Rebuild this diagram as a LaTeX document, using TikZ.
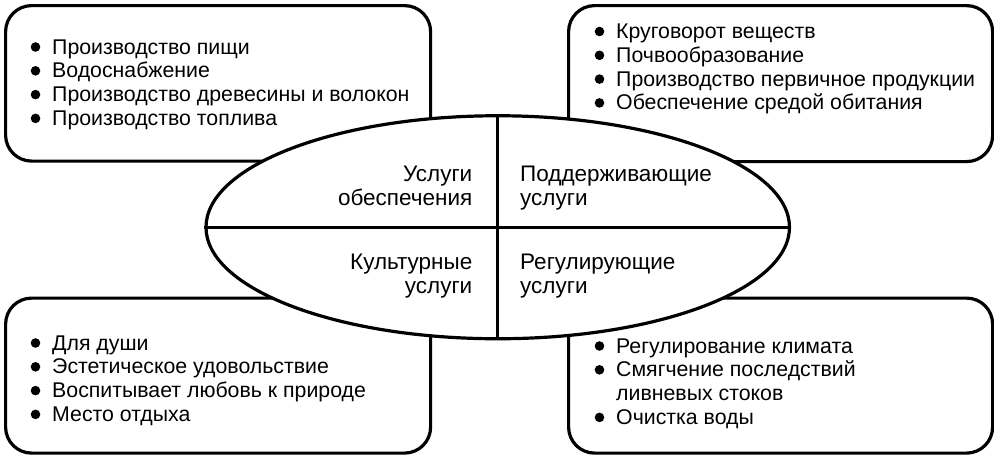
\documentclass[tikz,border=0pt]{standalone}
\usepackage{fontspec}
\setmainfont{Liberation Sans}
\usetikzlibrary{shapes.geometric}
\newcommand\blt{\tikz[baseline=0pt]\fill[black] (4.8pt,7pt) circle[radius=4.8pt];}
\newcommand\itm[1]{\makebox[21.5pt][l]{\blt}#1}
\newcommand\lstl[1]{\begin{tabular}[t]{@{}l@{}}#1\end{tabular}}
\newcommand\lstr[1]{\begin{tabular}[t]{@{}r@{}}#1\end{tabular}}
\begin{document}
\begin{tikzpicture}[x=1pt,y=-1pt,
  box/.style={draw, line width=3.2pt, rounded corners=26pt, inner sep=0pt, anchor=north west},
  lbl/.style={inner sep=0pt, font=\fontsize{22.5}{24}\selectfont},
  lst/.style={inner sep=0pt, font=\fontsize{21.3}{23.8}\selectfont},
  oval/.style={ellipse, draw, fill=white, line width=3.2pt, inner sep=0pt},
  divider/.style={line width=3.2pt}]
\useasboundingbox (0,0) rectangle (994,456);
\fill[white] (0,0) rectangle (994,456);
% boxes
\node[box, minimum width=425pt, minimum height=155.5pt] (tl) at (4,4) {};
\node[box, minimum width=424pt, minimum height=156pt] (tr) at (567,4) {};
\node[box, minimum width=425pt, minimum height=155pt] (bl) at (4,296.5) {};
\node[box, minimum width=424pt, minimum height=155pt] (br) at (567,296.5) {};
% ellipse
\node[oval, minimum width=583.5pt, minimum height=223pt] (E) at (497.75,227.25) {};
\draw[divider] (E.north) -- (E.south);
\draw[divider] (E.west) -- (E.east);
% ellipse labels
\node[lbl, anchor=base east] (prov) at (472.5,181) {\lstr{Услуги\\обеспечения}};
\node[lbl, anchor=base west] (supp) at (520,181) {\lstl{Поддерживающие\\услуги}};
\node[lbl, anchor=base east] (cult) at (472.5,269) {\lstr{Культурные\\услуги}};
\node[lbl, anchor=base west] (regu) at (520,269) {\lstl{Регулирующие\\услуги}};
% lists
\node[lst, anchor=base west] (tlt) at (30.5,54) {\lstl{\itm{Производство пищи}\\\itm{Водоснабжение}\\\itm{Производство древесины и волокон}\\\itm{Производство топлива}}};
\node[lst, anchor=base west] (trt) at (594.5,38.5) {\lstl{\itm{Круговорот веществ}\\\itm{Почвообразование}\\\itm{Производство первичное продукции}\\\itm{Обеспечение средой обитания}}};
\node[lst, anchor=base west] (blt) at (30.5,350) {\lstl{\itm{Для души}\\\itm{Эстетическое удовольствие}\\\itm{Воспитывает любовь к природе}\\\itm{Место отдыха}}};
\node[lst, anchor=base west] (brt) at (594.5,353) {\lstl{\itm{Регулирование климата}\\\itm{Смягчение последствий}\\\hspace*{21.5pt}ливневых стоков\\\itm{Очистка воды}}};
\end{tikzpicture}
\end{document}
